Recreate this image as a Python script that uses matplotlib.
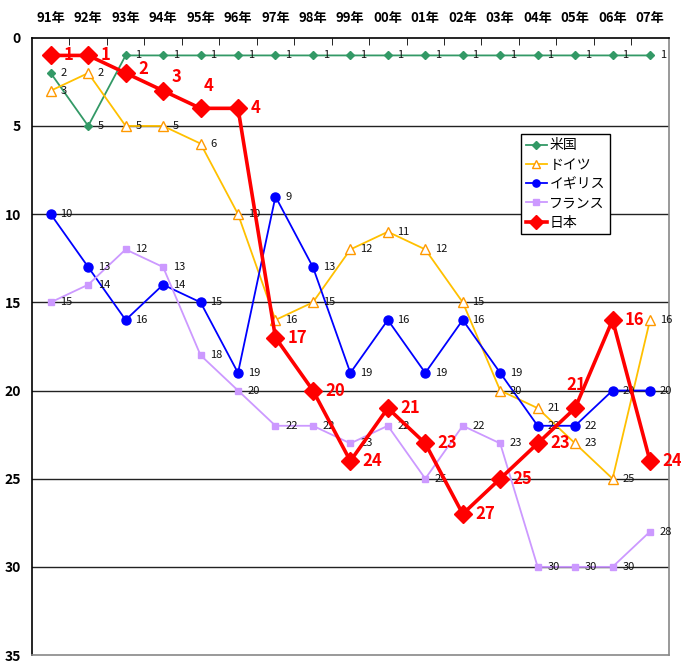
import matplotlib
matplotlib.use("Agg")
import matplotlib.pyplot as plt
from matplotlib.ticker import FixedLocator

plt.rcParams['font.family'] = ['Noto Sans CJK JP', 'DejaVu Sans']

years = ["91年", "92年", "93年", "94年", "95年", "96年", "97年", "98年", "99年",
         "00年", "01年", "02年", "03年", "04年", "05年", "06年", "07年"]

usa = [2, 5, 1, 1, 1, 1, 1, 1, 1, 1, 1, 1, 1, 1, 1, 1, 1]
germany = [3, 2, 5, 5, 6, 10, 16, 15, 12, 11, 12, 15, 20, 21, 23, 25, 16]
uk = [10, 13, 16, 14, 15, 19, 9, 13, 19, 16, 19, 16, 19, 22, 22, 20, 20]
france = [15, 14, 12, 13, 18, 20, 22, 22, 23, 22, 25, 22, 23, 30, 30, 30, 28]
japan = [1, 1, 2, 3, 4, 4, 17, 20, 24, 21, 23, 27, 25, 23, 21, 16, 24]

series_names = ["米国", "ドイツ", "イギリス", "フランス", "日本"]

fig = plt.figure(figsize=(6.81, 6.63), dpi=100)
ax = fig.add_axes([0.047, 0.012, 0.935, 0.931])

x = list(range(len(years)))

ax.plot(x, usa, color="#339966", lw=1.3, marker="D", ms=4.5,
        mfc="#339966", mec="#339966", label=series_names[0], zorder=3)
ax.plot(x, germany, color="#FFC000", lw=1.3, marker="^", ms=6.5,
        mfc="white", mec="#FF9900", mew=1.0, label=series_names[1], zorder=3)
ax.plot(x, uk, color="#0000FF", lw=1.3, marker="o", ms=6.5,
        mfc="#0000FF", mec="#0000FF", label=series_names[2], zorder=3)
ax.plot(x, france, color="#CC99FF", lw=1.3, marker="s", ms=5,
        mfc="#CC99FF", mec="#CC99FF", label=series_names[3], zorder=3)
ax.plot(x, japan, color="#FF0000", lw=2.6, marker="D", ms=9.5,
        mfc="#FF0000", mec="#FF0000", label=series_names[4], zorder=5)

# value labels for the small series
for vals in (usa, germany, uk, france):
    for xi, v in zip(x, vals):
        ax.annotate(str(v), (xi, v), xytext=(7, 0), textcoords="offset points",
                    ha="left", va="center", fontsize=8, color="#111111", zorder=4)

# value labels for Japan, bold red
jp_offsets = {2: (9, 3), 3: (6, 10), 4: (2, 16), 14: (-6, 17)}
for xi, v in zip(x, japan):
    dx, dy = jp_offsets.get(xi, (9, 0))
    ax.annotate(str(v), (xi, v), xytext=(dx, dy), textcoords="offset points",
                ha="left", va="center", fontsize=12, fontweight="bold",
                color="#FF0000", zorder=6)

ax.set_xlim(-0.5, len(years) - 0.5)
ax.set_ylim(35, 0)

ax.set_yticks(range(0, 36, 5))
ax.set_yticklabels([str(v) for v in range(0, 36, 5)], fontsize=10, fontweight="bold")
ax.tick_params(axis="y", length=0, pad=8)

ax.xaxis.set_ticks_position("top")
ax.set_xticks(x)
ax.set_xticklabels(years, fontsize=9.5, fontweight="bold")
ax.tick_params(axis="x", which="major", length=0, pad=9)
ax.xaxis.set_minor_locator(FixedLocator([i + 0.5 for i in range(len(years) - 1)]))
ax.tick_params(axis="x", which="minor", direction="in", length=5, color="black", top=True)

for gy in range(5, 31, 5):
    ax.axhline(gy, color="#222222", lw=1.0, zorder=1)

ax.spines["top"].set_color("black")
ax.spines["left"].set_color("black")
ax.spines["right"].set_color("#888888")
ax.spines["bottom"].set_color("#888888")
for s in ax.spines.values():
    s.set_linewidth(1.2)

leg = ax.legend(loc="upper left", bbox_to_anchor=(0.757, 0.856), fontsize=10,
                frameon=True, fancybox=False, edgecolor="black", framealpha=1,
                handlelength=1.5, handletextpad=0.2, borderpad=0.35,
                labelspacing=0.38, markerscale=0.8)
leg.get_frame().set_linewidth(1.0)
leg.set_zorder(10)

fig.savefig("out.png", dpi=100)
